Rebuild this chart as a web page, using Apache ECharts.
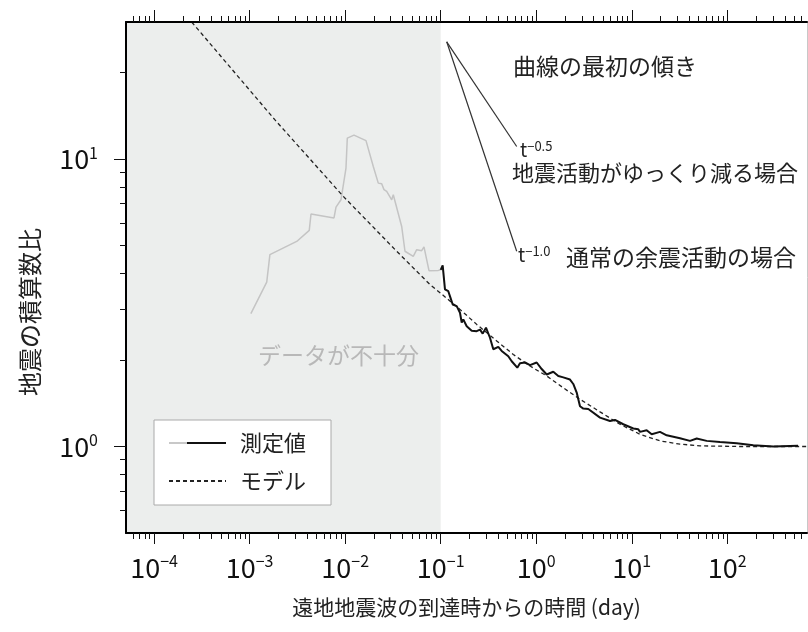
<!DOCTYPE html>
<html><head><meta charset="utf-8">
<script src="https://cdn.jsdelivr.net/npm/echarts@6/dist/echarts.min.js"></script>
<style>html,body{margin:0;padding:0;background:#fff}#c{width:808px;height:632px}</style>
</head><body><div id="c"></div>
<script>
// ---- data ----
const grayT = [0.00103,0.00151,0.00163,0.00311,0.00421,0.00439,0.00764,0.00802,0.00904,0.0102,0.01053,0.01237,0.01652,0.0197,0.02222,0.02412,0.0255,0.02721,0.0307,0.0319,0.03906,0.04229,0.05164,0.05609,0.06324,0.06686,0.07543,0.0944,0.1];
const grayV = [2.90,3.73,4.65,5.17,5.65,6.44,6.24,6.81,7.22,9.31,11.83,12.12,11.60,9.43,8.25,8.21,7.83,7.72,7.22,7.52,5.83,4.78,4.59,4.84,4.80,4.95,4.09,4.10,4.12];
const blackT = [0.1,0.1049,0.1109,0.1201,0.1252,0.1336,0.1471,0.1592,0.1659,0.1724,0.1872,0.2111,0.2381,0.2578,0.2753,0.298,0.3281,0.3553,0.4009,0.435,0.5101,0.5536,0.6335,0.6761,0.7628,0.8607,1.011,1.141,1.287,1.509,1.702,1.92,2.257,2.443,2.652,2.872,3.11,3.508,3.655,4.651,5.918,6.675,8.154,10.38,11.7,12.2,14.33,16.17,19.75,23.21,31.99,40.72,47.85,60.89,83.9,125.5,187.2,303,550];
const blackV = [4.12,4.27,3.52,3.47,3.33,3.12,3.08,2.92,2.70,2.77,2.62,2.53,2.52,2.55,2.47,2.59,2.39,2.18,2.22,2.15,2.06,1.98,1.88,1.95,1.96,1.92,1.96,1.86,1.78,1.82,1.76,1.74,1.71,1.65,1.54,1.38,1.355,1.35,1.33,1.26,1.227,1.237,1.195,1.155,1.148,1.124,1.139,1.103,1.124,1.094,1.069,1.046,1.066,1.046,1.037,1.027,1.010,1.000,1.005];
const modelT = [2.474e-4,1.843e-3,9.559e-3,0.03462,0.07727,0.0983,0.1592,0.2381,0.3857,0.5754,0.8607,1.287,1.92,2.872,3.957,4.651,7.532,12.2,19.75,31.99,51.8,135.8,680];
const modelV = [30.0,13.69,7.42,4.78,3.66,3.43,3.00,2.66,2.33,2.09,1.905,1.76,1.60,1.46,1.366,1.32,1.195,1.103,1.046,1.019,1.005,1.0,1.0];
const slopeT = [0.1156,0.6246];
const slopeHalfV = [25.6,11.06];
const slopeOneV = [25.6,4.78];
const shadeEnd = 0.1;
const xMajor = [1e-4,1e-3,1e-2,1e-1,1,10,100];
const yMajor = [1,10];
const X_MIN = 5.08e-5, X_MAX = 683, Y_MIN = 0.5, Y_MAX = 30;

const seriesNames = ['測定値','モデル'];
const texts = {
  slopeTitle: '曲線の最初の傾き',
  slow: '地震活動がゆっくり減る場合',
  normal: '通常の余震活動の場合',
  insufficient: 'データが不十分',
  xName: '遠地地震波の到達時からの時間 (day)',
  yName: '地震の積算数比'
};

// ---- helpers ----
const FONT = '"Noto Sans CJK JP", "Noto Sans", sans-serif';
function minorTicks(lo, hi) {
  const out = [];
  for (let e = -6; e <= 3; e++) for (let k = 2; k <= 9; k++) {
    const v = k * Math.pow(10, e);
    if (v > lo * 1.0001 && v < hi * 0.9999) out.push(Number(v.toPrecision(3)));
  }
  return out;
}
const xMinor = minorTicks(X_MIN, X_MAX);
const yMinor = minorTicks(Y_MIN, Y_MAX);
const zip = (a, b) => a.map((v, i) => [v, b[i]]);
function powLabel(v) {
  const e = Math.round(Math.log10(v));
  return '{b|10}{s|' + (e < 0 ? '\u2212' + (-e) : String(e)) + '}';
}
const labelRich = {
  b: {fontFamily: FONT, fontSize: 27, lineHeight: 29, color: '#111'},
  s: {fontFamily: FONT, fontSize: 16, lineHeight: 16, color: '#111', verticalAlign: 'top'}
};
function xAx(pos, major, len, showLine, showLabel) {
  return {
    type: 'log', position: pos, min: X_MIN, max: X_MAX, z: 10,
    axisLine: {show: showLine, onZero: false, lineStyle: {color: '#000', width: 2}},
    axisTick: {show: true, customValues: major, length: len, lineStyle: {color: '#111', width: 1}},
    axisLabel: showLabel ? {show: true, customValues: major, formatter: powLabel, rich: labelRich, margin: 20} : {show: false},
    splitLine: {show: false}, minorTick: {show: false}
  };
}
function yAx(pos, major, len, showLine, showLabel) {
  return {
    type: 'log', position: pos, min: Y_MIN, max: Y_MAX, z: 10,
    axisLine: {show: showLine, onZero: false, lineStyle: {color: '#000', width: 2}},
    axisTick: {show: true, customValues: major, length: len, lineStyle: {color: '#111', width: 1}},
    axisLabel: showLabel ? {show: true, customValues: major, formatter: powLabel, rich: labelRich, margin: 28} : {show: false},
    splitLine: {show: false}, minorTick: {show: false}
  };
}

const chart = echarts.init(document.getElementById('c'), null, {renderer: 'canvas'});
const xMain = xAx('bottom', xMajor, 11, true, true);
xMain.name = texts.xName;
xMain.nameLocation = 'middle';
xMain.nameGap = 64;
xMain.nameTextStyle = {fontFamily: FONT, fontSize: 21, color: '#222'};

const legendGrad = new echarts.graphic.LinearGradient(0, 0, 1, 0, [
  {offset: 0, color: '#c8c8c8'}, {offset: 0.33, color: '#c8c8c8'},
  {offset: 0.33, color: '#111'}, {offset: 1, color: '#111'}
]);

chart.setOption({
  animation: false,
  backgroundColor: '#fff',
  textStyle: {fontFamily: FONT},
  grid: {left: 126, top: 22, width: 681, height: 511, containLabel: false},
  xAxis: [xMain, xAx('bottom', xMinor, 6, false, false), xAx('top', xMajor, 12, true, false), xAx('top', xMinor, 6, false, false)],
  yAxis: [yAx('left', yMajor, 12, true, true), yAx('left', yMinor, 6, false, false),
    {type: 'log', position: 'right', min: Y_MIN, max: Y_MAX, axisLine: {show: true, onZero: false, lineStyle: {color: '#c8c8c8', width: 1}},
     axisTick: {show: false}, axisLabel: {show: false}, splitLine: {show: false}}],
  legend: {
    orient: 'vertical', left: 154, top: 420,
    data: [
      {name: seriesNames[0], lineStyle: {color: legendGrad, width: 2}, itemStyle: {opacity: 0}},
      {name: seriesNames[1], itemStyle: {opacity: 0}}
    ],
    itemStyle: {opacity: 0},
    itemWidth: 57, itemHeight: 14, itemGap: 14,
    padding: [11, 25, 12, 14],
    backgroundColor: '#fff', borderColor: '#aaa', borderWidth: 1, borderRadius: 0,
    textStyle: {fontFamily: FONT, fontSize: 22, color: '#222', lineHeight: 24, padding: [0, 0, 0, 9]},
    selectedMode: false
  },
  series: [
    {
      name: '測定値(不十分)', type: 'line', data: zip(grayT, grayV), symbol: 'none', showSymbol: false,
      lineStyle: {color: '#c4c4c4', width: 1.5}, itemStyle: {color: '#c4c4c4'}, z: 3, silent: true,
      markArea: {silent: true, itemStyle: {color: '#eceeed'}, data: [[{xAxis: X_MIN}, {xAxis: shadeEnd}]], z: 1}
    },
    {
      name: seriesNames[1], type: 'line', data: zip(modelT, modelV), symbol: 'none', showSymbol: false,
      lineStyle: {color: '#222', width: 1.3, type: [4, 3]}, itemStyle: {color: '#222'}, z: 4, silent: true
    },
    {
      name: seriesNames[0], type: 'line', data: zip(blackT, blackV), symbol: 'none', showSymbol: false,
      lineStyle: {color: '#111', width: 2}, itemStyle: {color: '#111'}, z: 5, silent: true
    },
    {
      name: 't-0.5', type: 'line', data: zip(slopeT, slopeHalfV), symbol: 'none', showSymbol: false,
      lineStyle: {color: '#333', width: 1.2}, z: 5, silent: true
    },
    {
      name: 't-1.0', type: 'line', data: zip(slopeT, slopeOneV), symbol: 'none', showSymbol: false,
      lineStyle: {color: '#333', width: 1.2}, z: 5, silent: true
    }
  ],
  graphic: [
    {type: 'text', x: 513, y: 66, z: 20, style: {text: texts.slopeTitle, font: '23px ' + FONT, fill: '#222', align: 'left', verticalAlign: 'middle', textAlign: 'left', textVerticalAlign: 'middle'}},
    {type: 'text', x: 520, y: 150, z: 20, style: {text: '{t|t}{s|\u22120.5}', fill: '#222', align: 'left', verticalAlign: 'middle', textAlign: 'left', textVerticalAlign: 'middle',
      rich: {t: {fontFamily: FONT, fontSize: 19, lineHeight: 20, fill: '#222', color: '#222'}, s: {fontFamily: FONT, fontSize: 13, lineHeight: 13, fill: '#222', color: '#222', verticalAlign: 'top'}}}},
    {type: 'text', x: 512, y: 173, z: 20, style: {text: texts.slow, font: '22px ' + FONT, fill: '#222', align: 'left', verticalAlign: 'middle', textAlign: 'left', textVerticalAlign: 'middle'}},
    {type: 'text', x: 518, y: 255, z: 20, style: {text: '{t|t}{s|\u22121.0}', fill: '#222', align: 'left', verticalAlign: 'middle', textAlign: 'left', textVerticalAlign: 'middle',
      rich: {t: {fontFamily: FONT, fontSize: 19, lineHeight: 20, fill: '#222', color: '#222'}, s: {fontFamily: FONT, fontSize: 13, lineHeight: 13, fill: '#222', color: '#222', verticalAlign: 'top'}}}},
    {type: 'text', x: 566, y: 257, z: 20, style: {text: texts.normal, font: '23px ' + FONT, fill: '#222', align: 'left', verticalAlign: 'middle', textAlign: 'left', textVerticalAlign: 'middle'}},
    {type: 'text', x: 258, y: 355, z: 20, style: {text: texts.insufficient, font: '23px ' + FONT, fill: '#b8b8b8', align: 'left', verticalAlign: 'middle', textAlign: 'left', textVerticalAlign: 'middle'}},
    {type: 'text', x: 30, y: 312, rotation: Math.PI / 2, z: 20, style: {text: texts.yName, font: '24px ' + FONT, fill: '#222', align: 'center', verticalAlign: 'middle', textAlign: 'center', textVerticalAlign: 'middle'}}
  ]
});
</script>
</body></html>
